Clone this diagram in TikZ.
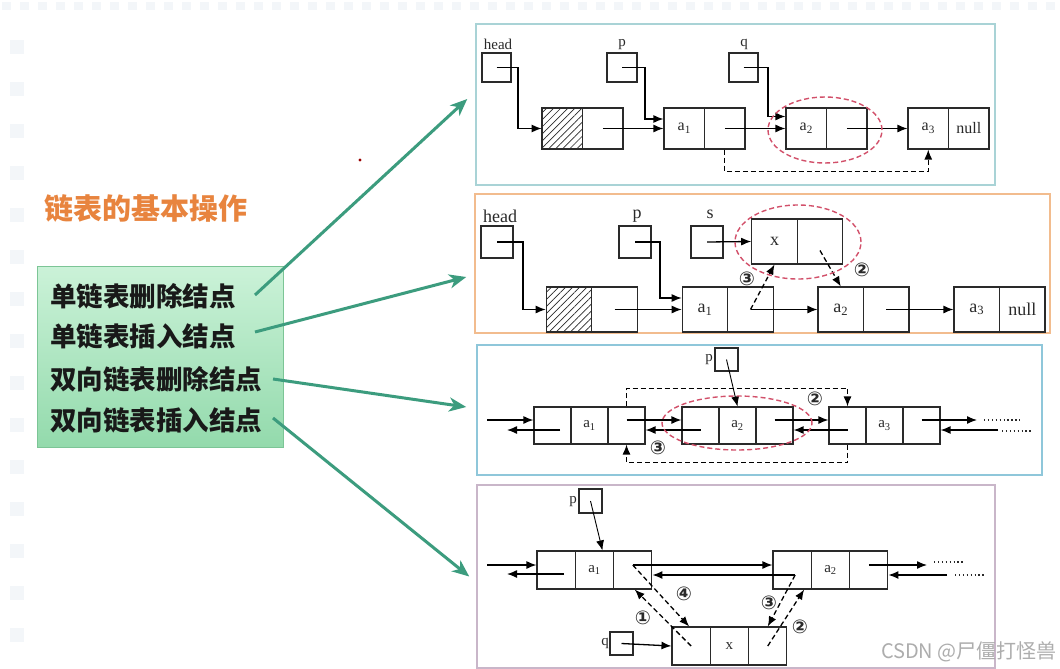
\documentclass[tikz,border=0pt]{standalone}
\usepackage{fontspec}
\setmainfont{Liberation Serif}
\newfontfamily\cjk{Noto Sans CJK SC}
\newfontfamily\symf{DejaVu Sans}
\usetikzlibrary{arrows.meta,patterns.meta,shapes.geometric,calc}
\definecolor{framea}{HTML}{A9D3D6}
\definecolor{frameb}{HTML}{F2BC8E}
\definecolor{framec}{HTML}{8FC7DA}
\definecolor{framed}{HTML}{C9B6C9}
\definecolor{ringred}{HTML}{D2506A}
\definecolor{garrow}{HTML}{3C9C7E}
\definecolor{titleor}{HTML}{E8843E}
\definecolor{boxtop}{HTML}{CBF2D8}
\definecolor{boxbot}{HTML}{93DAAC}
\definecolor{boxline}{HTML}{7CC596}
\definecolor{ink}{HTML}{2A2A2A}
\definecolor{faint}{HTML}{F3F6F9}
\tikzset{
  pframe/.style={draw, line width=1.5pt, inner sep=0pt},
  cellbase/.style={draw=ink, line width=1.1pt, inner sep=0pt, fill=white, text=ink},
  cA/.style={cellbase, minimum width=40.5pt, minimum height=41pt, font=\fontsize{16}{16}\selectfont},
  cB/.style={cellbase, minimum width=45.5pt, minimum height=45pt, font=\fontsize{18}{18}\selectfont},
  cC/.style={cellbase, minimum width=37pt, minimum height=37pt, font=\fontsize{15}{15}\selectfont},
  cD/.style={cellbase, minimum width=38.3pt, minimum height=38pt, font=\fontsize{15}{15}\selectfont},
  hatch/.style={pattern={Lines[angle=45,distance=5pt,line width=0.7pt]}, pattern color=ink},
  pbox/.style={draw=ink, line width=1.1pt, inner sep=0pt, fill=white},
  lblA/.style={inner sep=0pt, text=ink, font=\fontsize{15}{15}\selectfont},
  lblB/.style={inner sep=0pt, text=ink, font=\fontsize{18}{18}\selectfont},
  ptr/.style={-{Latex[length=10pt,width=8pt]}, line width=1.3pt, draw=black},
  thinptr/.style={-{Latex[length=10pt,width=8pt]}, line width=0.9pt, draw=black},
  dptr/.style={ptr, dash pattern=on 5pt off 3pt},
  ring/.style={ellipse, draw=ringred, line width=1.4pt, dash pattern=on 5pt off 3pt, inner sep=0pt},
  circnum/.style={inner sep=0pt, text=ink, font=\symf\bfseries\fontsize{19}{19}\selectfont},
  dotline/.style={line width=1.1pt, draw=ink, dash pattern=on 1.3pt off 2.6pt},
  garr/.style={draw=garrow, line width=3pt, -{Stealth[length=17pt,width=14pt,inset=5pt]}},
  optext/.style={anchor=west, inner sep=0pt, text=black!90, font=\cjk\bfseries\fontsize{26.5}{26.5}\selectfont}
}
\begin{document}
\begin{tikzpicture}[x=1pt,y=-1pt]
\useasboundingbox (0,0) rectangle (1060,669);
\fill[white] (0,0) rectangle (1060,669);
% faint background marks
\foreach \xx in {2,20,...,1060} { \fill[faint] (\xx,2) rectangle (\xx+9,10); }
\foreach \yy in {40,82,...,640} { \fill[faint] (10,\yy) rectangle (24,\yy+14); }

% ---------------- left part ----------------
\node[inner sep=0pt, text=titleor, font=\cjk\bfseries\fontsize{29}{29}\selectfont] (title) at (146,208) {链表的基本操作};
\node[draw=boxline, line width=1pt, top color=boxtop, bottom color=boxbot, minimum width=246pt, minimum height=181pt, inner sep=0pt] (G) at (160,356.5) {};
\node[optext] (t1) at (50,296) {单链表删除结点};
\node[optext] (t2) at (50,336) {单链表插入结点};
\node[optext] (t3) at (50,379) {双向链表删除结点};
\node[optext] (t4) at (50,420) {双向链表插入结点};
\fill[red!60!black] (360,160) circle (1.6);

% ---------------- panel frames ----------------
\node[pframe, draw=framea, minimum width=519pt, minimum height=161pt] (P1) at (735.5,104.5) {};
\node[pframe, draw=frameb, minimum width=575pt, minimum height=139pt] (P2) at (762.5,263.5) {};
\node[pframe, draw=framec, minimum width=565pt, minimum height=130pt] (P3) at (759.5,410) {};
\node[pframe, draw=framed, minimum width=518pt, minimum height=183pt] (P4) at (736,576.5) {};

% green arrows
\coordinate (s1) at (255,295);
\coordinate (s2) at (255,332);
\coordinate (s3) at (273,379);
\coordinate (s4) at (273,418);
\draw[garr] (s1) -- ([xshift=-8pt,yshift=5.5pt]P1.west);
\draw[garr] (s2) -- ([xshift=-8pt,yshift=-13.5pt]P2.west);
\draw[garr] (s3) -- ([xshift=-10pt,yshift=3pt]P3.west);
\draw[garr] (s4) -- ([xshift=-7pt]P4.west);

% ---------------- panel 1 ----------------
\node[lblA] (hl1) at (498,44) {head};
\node[lblA] (pl1) at (622,45) {p};
\node[lblA] (ql1) at (744,44) {q};
\node[pbox, minimum width=29pt, minimum height=29pt] (hb1) at (496.5,67.5) {};
\node[pbox, minimum width=30pt, minimum height=29pt] (pb1) at (622,67.5) {};
\node[pbox, minimum width=29pt, minimum height=29pt] (qb1) at (743.5,67.5) {};
\node[cA, hatch] (h1a) at (562.25,128.5) {};
\node[cA] (h1b) at (602.75,128.5) {};
\node[cA] (n1a) at (684.25,128.5) {a\textsubscript{1}};
\node[cA] (n1b) at (724.75,128.5) {};
\node[cA] (n2a) at (806.25,128.5) {a\textsubscript{2}};
\node[cA] (n2b) at (846.75,128.5) {};
\node[cA] (n3a) at (928.25,128.5) {a\textsubscript{3}};
\node[cA] (n3b) at (968.75,128.5) {null};
\draw[ptr] (hb1.center) -- ++(21.5,0) |- (h1a.west);
\draw[ptr] (pb1.center) -- ++(23,0) |- ([yshift=9.5pt]n1a.west);
\draw[ptr] (qb1.center) -- ++(24.5,0) |- ([yshift=12pt]n2a.west);
\draw[ptr] (h1b.center) -- (n1a.west);
\draw[ptr] (n1b.center) -- (n2a.west);
\draw[ptr] (n2b.center) -- (n3a.west);
\draw[dptr] (n1b.south) -- ++(0,22) -| (n3a.south);
\node[ring, minimum width=114pt, minimum height=66pt] (r1) at (825,130) {};

% ---------------- panel 2 ----------------
\node[lblB] (hl2) at (500,216) {head};
\node[lblB] (pl2) at (637,216) {p};
\node[lblB] (sl2) at (710,214) {s};
\node[pbox, minimum width=32pt, minimum height=32pt] (hb2) at (497,242) {};
\node[pbox, minimum width=32pt, minimum height=32pt] (pb2) at (635,242) {};
\node[pbox, minimum width=32pt, minimum height=32pt] (sb2) at (707,242) {};
\node[cB, hatch] (h2a) at (569,309.5) {};
\node[cB] (h2b) at (614.5,309.5) {};
\node[cB] (m1a) at (705,309.5) {a\textsubscript{1}};
\node[cB] (m1b) at (750.5,309.5) {};
\node[cB] (m2a) at (840.75,309.5) {a\textsubscript{2}};
\node[cB] (m2b) at (886.25,309.5) {};
\node[cB] (m3a) at (976.75,309.5) {a\textsubscript{3}};
\node[cB] (m3b) at (1022.25,309.5) {null};
\node[cB] (xa) at (774.5,241.5) {x};
\node[cB] (xb) at (820,241.5) {};
\draw[ptr] (hb2.center) -- ++(26,0) |- (h2a.west);
\draw[ptr] (pb2.center) -- ++(25,0) |- ([yshift=11.5pt]m1a.west);
\draw[ptr] (sb2.center) -- (xa.west);
\draw[ptr] (h2b.center) -- (m1a.west);
\draw[ptr] (m1b.center) -- (m2a.west);
\draw[ptr] (m2b.center) -- (m3a.west);
\draw[dptr] (m1b.center) -- (xa.south);
\draw[dptr] ([yshift=-9pt]xb.center) -- (m2a.north);
\node[ring, minimum width=126pt, minimum height=74pt] (r2) at (798,242) {};
\node[circnum] (k3b) at (747,279) {③};
\node[circnum] (k2b) at (862,270) {②};

% ---------------- panel 3 ----------------
\node[lblA] (pl3) at (709,360) {p};
\node[pbox, minimum width=23pt, minimum height=23pt] (pb3) at (726.5,359.5) {};
\node[cC] (d1a) at (552.5,425.5) {};
\node[cC] (d1b) at (589.5,425.5) {a\textsubscript{1}};
\node[cC] (d1c) at (626.5,425.5) {};
\node[cC] (d2a) at (700.5,425.5) {};
\node[cC] (d2b) at (737.5,425.5) {a\textsubscript{2}};
\node[cC] (d2c) at (774.5,425.5) {};
\node[cC] (d3a) at (847.5,425.5) {};
\node[cC] (d3b) at (884.5,425.5) {a\textsubscript{3}};
\node[cC] (d3c) at (921.5,425.5) {};
\coordinate (in3) at (487,420);
\coordinate (out3) at (507,430);
\coordinate (o3) at (977,420);
\coordinate (i3) at (998,430);
\draw[ptr] (in3) -- ([yshift=5.5pt]d1a.west);
\draw[ptr] ([xshift=7.5pt,yshift=-4.5pt]d1a.center) -- (out3);
\draw[ptr] ([yshift=5.5pt]d1c.center) -- ([yshift=5.5pt]d2a.west);
\draw[ptr] ([yshift=-4.5pt]d2a.center) -- ([yshift=-4.5pt]d1c.east);
\draw[ptr] ([yshift=5.5pt]d2c.center) -- ([yshift=5.5pt]d3a.west);
\draw[ptr] ([yshift=-4.5pt]d3a.center) -- ([yshift=-4.5pt]d2c.east);
\draw[ptr] ([yshift=5.5pt]d3c.center) -- (o3);
\draw[ptr] (i3) -- ([yshift=-4.5pt]d3c.east);
\draw[dotline] (984,420) -- (1020,420);
\draw[dotline] (1002,431) -- (1031,431);
\draw[dptr] (d1c.north) -- ++(0,-18) -| (d3a.north);
\draw[dptr] (d3a.south) -- ++(0,18) -| (d1c.south);
\draw[thinptr] (pb3.center) -- (d2b.north);
\node[ring, minimum width=150pt, minimum height=54pt] (r3) at (737,423) {};
\node[circnum] (k2c) at (815,399) {②};
\node[circnum] (k3c) at (658,448) {③};

% ---------------- panel 4 ----------------
\node[lblA] (pl4) at (573,502) {p};
\node[pbox, minimum width=23pt, minimum height=24pt] (pb4) at (590.5,501) {};
\node[lblA] (ql4) at (605,643) {q};
\node[pbox, minimum width=23pt, minimum height=23pt] (qb4) at (621.5,643.5) {};
\node[cD] (e1a) at (556.15,570) {};
\node[cD] (e1b) at (594.45,570) {a\textsubscript{1}};
\node[cD] (e1c) at (632.75,570) {};
\node[cD] (e2a) at (792.15,570) {};
\node[cD] (e2b) at (830.45,570) {a\textsubscript{2}};
\node[cD] (e2c) at (868.75,570) {};
\node[cD] (xa4) at (691.15,646) {};
\node[cD] (xb4) at (729.45,646) {x};
\node[cD] (xc4) at (767.75,646) {};
\coordinate (in4) at (487,565);
\coordinate (out4) at (507,574);
\coordinate (o4) at (927,565);
\coordinate (i4) at (947,575);
\coordinate (e2s) at ([xshift=3pt,yshift=-5pt]e2a.center);
\draw[ptr] (in4) -- ([yshift=5pt]e1a.west);
\draw[ptr] ([xshift=8pt,yshift=-4pt]e1a.center) -- (out4);
\draw[ptr] ([yshift=5pt]e1c.center) -- ([yshift=5pt]e2a.west);
\draw[ptr] (e2s) -- ([yshift=-5pt]e1c.east);
\draw[ptr] ([yshift=5pt]e2c.center) -- (o4);
\draw[ptr] (i4) -- ([yshift=-5pt]e2c.east);
\draw[dotline] (934,562) -- (965,562);
\draw[dotline] (955,575) -- (984,575);
\draw[thinptr] (pb4.center) -- ([xshift=8pt]e1b.north);
\draw[ptr] (qb4.center) -- (xa4.west);
\draw[dptr] ([yshift=5pt]e1c.center) -- ([xshift=-2pt]xa4.north);
\draw[dptr] (xa4.center) -- ([xshift=2pt]e1c.south);
\draw[dptr] (e2s) -- (xc4.north);
\draw[dptr] (xc4.center) -- ([xshift=12pt]e2a.south);
\node[circnum] (k4d) at (684,594) {④};
\node[circnum] (k1d) at (643,618) {①};
\node[circnum] (k3d) at (769,603) {③};
\node[circnum] (k2d) at (800,627) {②};

% watermark
\node[anchor=east, inner sep=0pt, text=black!32, font=\cjk\fontsize{20}{20}\selectfont] (wm) at (1057,652) {CSDN @尸僵打怪兽};
\end{tikzpicture}
\end{document}
